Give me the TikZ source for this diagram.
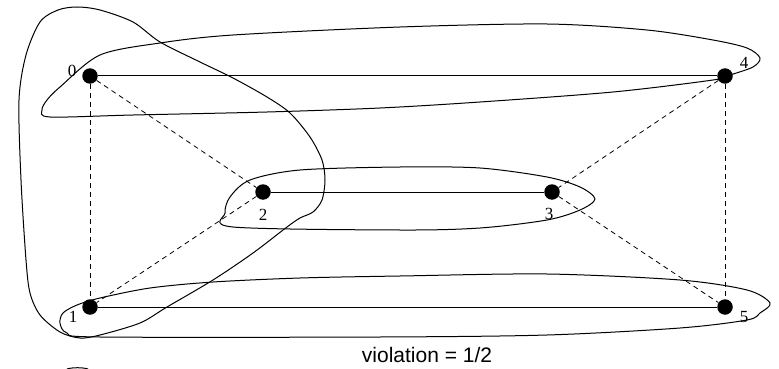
\documentclass[tikz,border=0pt]{standalone}
\usepackage{fontspec}
\setmainfont{Liberation Serif}
\newfontfamily\labsans{Liberation Sans}
\begin{document}
\begin{tikzpicture}[x=1pt,y=-1pt,
  vertex/.style={circle,fill=black,inner sep=0pt,minimum size=15.5pt},
  vlabel/.style={inner sep=0pt,font=\fontsize{17}{17}\selectfont},
  solidedge/.style={line width=1pt},
  dashedge/.style={line width=0.8pt,dash pattern=on 5pt off 4pt},
  loop/.style={line width=1pt}]
\useasboundingbox (0,0) rectangle (779,369);
% vertices
\node[vertex] (v0) at (90,76) {};
\node[vertex] (v4) at (725,76) {};
\node[vertex] (v2) at (263,192) {};
\node[vertex] (v3) at (552,192) {};
\node[vertex] (v1) at (90,307) {};
\node[vertex] (v5) at (725,307) {};
% labels
\node[vlabel] (l0) at (72,71) {0};
\node[vlabel] (l4) at (744,63) {4};
\node[vlabel] (l2) at (263,215) {2};
\node[vlabel] (l3) at (549,214) {3};
\node[vlabel] (l1) at (73,317) {1};
\node[vlabel] (l5) at (744,317) {5};
% edges
\draw[solidedge] (v0) -- (v4);
\draw[solidedge] (v2) -- (v3);
\draw[solidedge] (v1) -- (v5);
\draw[dashedge] (v0) -- (v2);
\draw[dashedge] (v0) -- (v1);
\draw[dashedge] (v4) -- (v3);
\draw[dashedge] (v4) -- (v5);
\draw[dashedge] (v2) -- (v1);
\draw[dashedge] (v3) -- (v5);
% top loop
\draw[loop] plot[smooth cycle] coordinates {(42,110) (47,100) (60,87) (100,55) (160,43) (233,35) (400,27) (547,24) (647,30) (713,40) (747,48) (760,58) (753,67) (730,75) (713,80) (613,92) (480,102) (380,108) (267,112) (133,115) (50,117)};
% middle loop
\draw[loop] plot[smooth cycle] coordinates {(225,213) (230,197) (250,180) (300,170) (400,167) (480,168) (547,177) (580,187) (595,199) (580,210) (547,220) (480,228) (400,230) (233,227)};
% bottom loop
\draw[loop] plot[smooth cycle] coordinates {(60,323) (63,313) (77,305) (100,298) (150,288) (213,282) (300,278) (400,276) (547,274) (680,280) (747,290) (770,303) (760,313) (747,320) (680,328) (547,335) (380,337) (100,337) (67,333)};
% big freeform loop
\draw[loop] plot[smooth cycle] coordinates {(77,7) (100,10) (133,22) (160,42) (200,62) (233,78) (267,97) (290,113) (310,137) (322,160) (325,180) (322,200) (313,212) (300,218) (287,227) (253,253) (213,280) (167,307) (140,323) (100,335) (80,338) (60,332) (40,315) (30,293) (26,260) (21,180) (19,100) (26,55) (40,22) (58,10)};
% small partial curve at bottom
\coordinate (pa) at (67,369);
\coordinate (pb) at (88,369);
\draw[line width=1pt] (pa) .. controls (72,367.3) and (83,367.3) .. (pb);
% caption
\node[inner sep=0pt,font=\labsans\fontsize{21}{21}\selectfont] (cap) at (427,355) {violation = 1/2};
\end{tikzpicture}
\end{document}
